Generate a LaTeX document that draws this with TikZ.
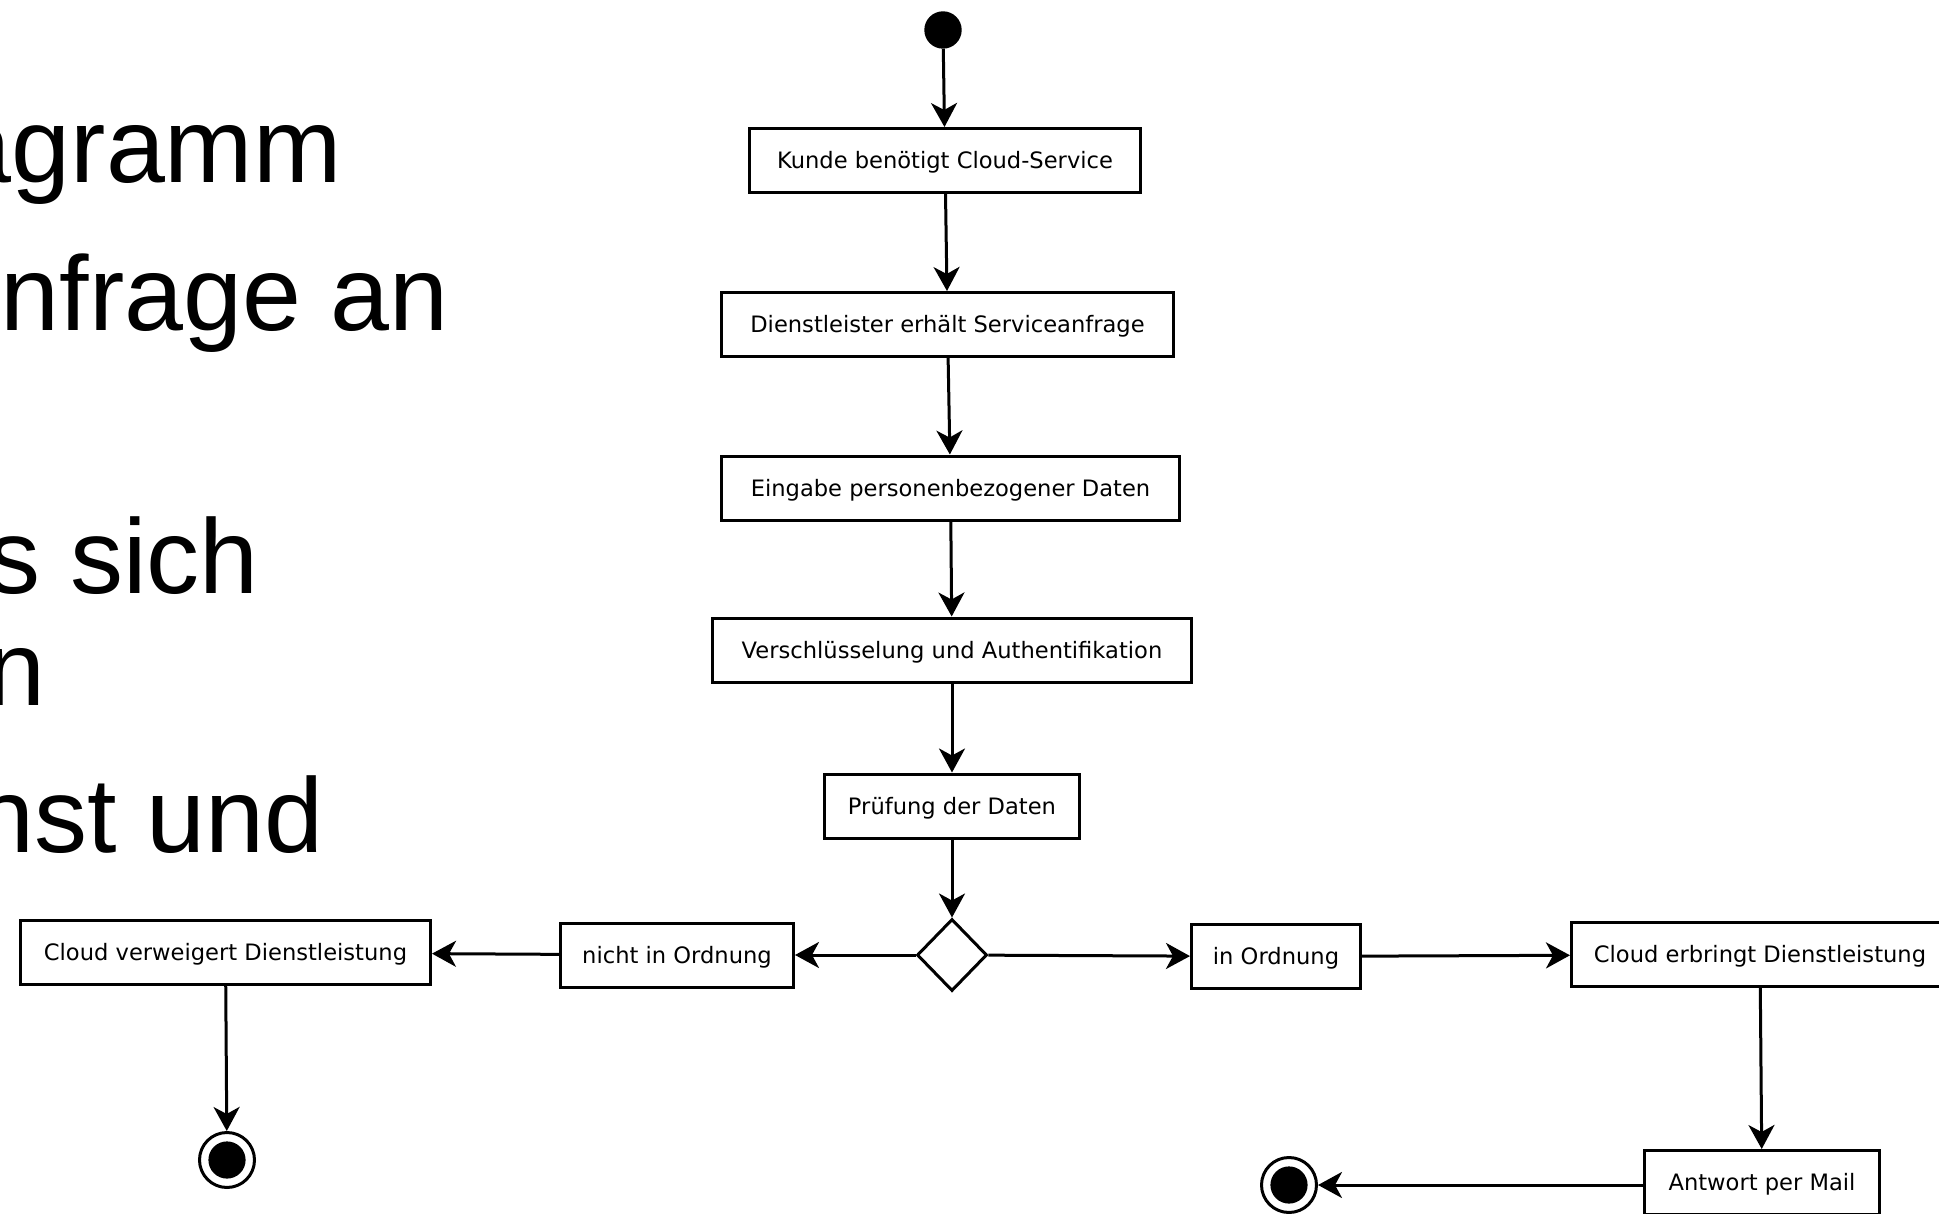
\documentclass[tikz,border=0pt]{standalone}
\usepackage{fontspec}
\setmainfont{DejaVu Sans}
\newfontfamily\slidefont{Liberation Sans}
\usetikzlibrary{shapes.geometric,arrows.meta}

\begin{document}
\begin{tikzpicture}[x=0.5pt,y=-0.5pt,
  act/.style={draw,line width=1.5pt,rectangle,minimum height=32pt,inner sep=0pt,
    text height=9.8pt,text depth=1.6pt,
    font=\fontsize{11.3}{13}\selectfont},
  flow/.style={line width=1.5pt,-{Stealth[length=12pt,width=13pt,inset=3.5pt]}},
  startnode/.style={circle,fill,minimum size=18.7pt,inner sep=0pt},
  endnode/.style={circle,draw,line width=1.5pt,minimum size=27.5pt,inner sep=0pt,
    path picture={\fill (path picture bounding box.center) circle (9.3pt);}},
  decision/.style={diamond,draw,line width=1.5pt,minimum width=35pt,minimum height=36pt,
    inner sep=0pt,aspect=1},
  slide/.style={inner sep=0pt,anchor=base east,
    font=\slidefont\fontsize{53}{60}\selectfont}]

\useasboundingbox (0,0) rectangle (1939,1214);
\clip (0,0) rectangle (1939,1214);

% bullet text of the slide
\node[slide] (t1) at (342,183) {agramm};
\node[slide] (t2) at (449,330) {nfrage an};
\node[slide] (t3) at (259,593) {s sich};
\node[slide] (t4) at (46,705) {n};
\node[slide] (t5) at (324,852) {nst und};

% activity flow
\node[startnode] (start) at (943,30) {};
\node[act,minimum width=195.5pt] (k1) at (945,160.5) {Kunde benötigt Cloud-Service};
\node[act,minimum width=226pt] (k2) at (947.5,324.5) {Dienstleister erhält Serviceanfrage};
\node[act,minimum width=229pt] (k3) at (950.5,488) {Eingabe personenbezogener Daten};
\node[act,minimum width=239.5pt] (k4) at (952,650) {Verschlüsselung und Authentifikation};
\node[act,minimum width=127.5pt] (k5) at (952,806) {Prüfung der Daten};
\node[decision] (dec) at (952,955) {};

\node[act,minimum width=116.5pt] (nio) at (677,955) {nicht in Ordnung};
\node[act,minimum width=205pt] (cvd) at (225.5,952.5) {Cloud verweigert Dienstleistung};
\node[endnode] (end1) at (227,1160) {};

\node[act,minimum width=84.5pt] (io) at (1276,956.5) {in Ordnung};
\node[act,minimum width=188.5pt] (ced) at (1760,954.5) {Cloud erbringt Dienstleistung};
\node[act,minimum width=117.5pt] (apm) at (1762,1182.5) {Antwort per Mail};
\node[endnode] (end2) at (1289,1185) {};

\draw[flow] (start) -- (k1);
\draw[flow] (k1) -- (k2);
\draw[flow] (k2) -- (k3);
\draw[flow] (k3) -- (k4);
\draw[flow] (k4) -- (k5);
\draw[flow] (k5) -- (dec);
\draw[flow] (dec) -- (nio);
\draw[flow] (nio) -- (cvd);
\draw[flow] (cvd) -- (end1);
\draw[flow] (dec) -- (io);
\draw[flow] (io) -- (ced);
\draw[flow] (ced) -- (apm);
\draw[flow] (apm.west |- end2) -- (end2);
\end{tikzpicture}
\end{document}
